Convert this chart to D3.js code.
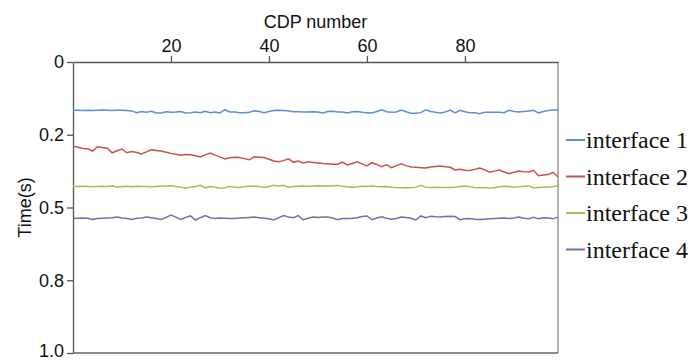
<!DOCTYPE html>
<html>
<head>
<meta charset="utf-8">
<script src="https://cdn.jsdelivr.net/npm/d3@7"></script>
<style>
  body { margin: 0; background: #fff; }
  svg { display: block; }
</style>
</head>
<body>
<div id="chart"></div>
<script>
// series names + colours
const seriesNames = ["interface 1", "interface 2", "interface 3", "interface 4"];
const seriesColors = ["#5b8ed4", "#cc4f4c", "#9bc25a", "#8465aa"];

// CDP numbers 0..99
const cdp = d3.range(0, 100);

// picked times (s)
const interface1 = [
  0.166,0.166,0.167,0.166,0.167,0.166,0.165,0.166,0.167,0.166,
  0.166,0.167,0.168,0.174,0.170,0.173,0.169,0.175,0.175,0.171,
  0.173,0.172,0.170,0.175,0.174,0.172,0.174,0.169,0.174,0.172,
  0.175,0.164,0.172,0.172,0.174,0.174,0.173,0.168,0.170,0.174,
  0.170,0.167,0.166,0.167,0.168,0.171,0.171,0.172,0.172,0.171,
  0.172,0.175,0.170,0.169,0.172,0.172,0.175,0.171,0.170,0.173,
  0.174,0.175,0.170,0.164,0.171,0.173,0.172,0.165,0.171,0.176,
  0.176,0.174,0.164,0.170,0.173,0.175,0.172,0.165,0.175,0.166,
  0.171,0.174,0.174,0.178,0.173,0.173,0.173,0.173,0.174,0.166,
  0.170,0.172,0.170,0.168,0.166,0.175,0.170,0.167,0.165,0.164
];
const interface2 = [
  0.289,0.293,0.297,0.298,0.306,0.291,0.294,0.296,0.312,0.305,
  0.299,0.312,0.308,0.311,0.316,0.309,0.302,0.304,0.306,0.310,
  0.314,0.317,0.320,0.318,0.319,0.322,0.326,0.319,0.313,0.320,
  0.326,0.333,0.329,0.327,0.328,0.332,0.336,0.326,0.327,0.328,
  0.334,0.340,0.343,0.339,0.333,0.344,0.340,0.347,0.343,0.345,
  0.347,0.349,0.350,0.351,0.351,0.344,0.354,0.349,0.343,0.350,
  0.357,0.346,0.352,0.360,0.353,0.363,0.356,0.350,0.356,0.361,
  0.362,0.363,0.364,0.361,0.359,0.357,0.360,0.362,0.371,0.369,
  0.372,0.373,0.369,0.364,0.370,0.379,0.375,0.371,0.378,0.384,
  0.379,0.375,0.377,0.378,0.372,0.391,0.388,0.387,0.379,0.395
];
const interface3 = [
  0.428,0.428,0.427,0.428,0.429,0.428,0.427,0.428,0.425,0.430,
  0.428,0.427,0.429,0.427,0.428,0.428,0.429,0.428,0.427,0.426,
  0.425,0.428,0.430,0.434,0.430,0.428,0.424,0.433,0.428,0.430,
  0.434,0.432,0.427,0.430,0.431,0.428,0.427,0.426,0.428,0.431,
  0.428,0.424,0.427,0.424,0.430,0.428,0.427,0.426,0.427,0.426,
  0.425,0.426,0.425,0.426,0.424,0.427,0.429,0.431,0.429,0.427,
  0.428,0.426,0.428,0.429,0.428,0.430,0.431,0.432,0.431,0.432,
  0.430,0.424,0.430,0.431,0.430,0.431,0.431,0.431,0.430,0.428,
  0.426,0.429,0.431,0.432,0.432,0.433,0.432,0.429,0.427,0.428,
  0.430,0.429,0.427,0.425,0.433,0.431,0.430,0.430,0.428,0.425
];
const interface4 = [
  0.538,0.537,0.536,0.537,0.541,0.538,0.537,0.536,0.535,0.533,
  0.536,0.538,0.541,0.537,0.536,0.533,0.535,0.538,0.541,0.534,
  0.526,0.533,0.541,0.534,0.529,0.543,0.535,0.528,0.535,0.538,
  0.536,0.537,0.538,0.538,0.536,0.535,0.534,0.533,0.535,0.537,
  0.539,0.543,0.535,0.528,0.533,0.535,0.528,0.542,0.537,0.533,
  0.534,0.533,0.533,0.536,0.542,0.538,0.538,0.537,0.535,0.531,
  0.529,0.542,0.536,0.532,0.537,0.540,0.538,0.533,0.534,0.537,
  0.543,0.529,0.535,0.530,0.532,0.533,0.531,0.530,0.531,0.542,
  0.539,0.538,0.540,0.541,0.540,0.539,0.538,0.537,0.536,0.538,
  0.536,0.533,0.537,0.539,0.534,0.539,0.535,0.536,0.539,0.533
];

const xTicks = [20, 40, 60, 80];
const yTicks = [0, 0.25, 0.5, 0.75, 1];
const yTickLabels = ["0", "0.2", "0.5", "0.8", "1.0"];

const width = 692, height = 361;
const margin = {top: 62, right: 134, bottom: 8, left: 73};
const plotW = width - margin.left - margin.right,
  plotH = height - margin.top - margin.bottom;

const svg = d3.select("#chart").append("svg")
  .attr("width", width)
  .attr("height", height);

const x = d3.scaleLinear().domain([0, 99]).range([0, plotW]);
const y = d3.scaleLinear().domain([0, 1]).range([0, plotH]);

const g = svg.append("g")
  .attr("transform", "translate(" + margin.left + "," + margin.top + ")");

// frame (right + bottom are lighter)
g.append("line").attr("x1", plotW).attr("x2", plotW).attr("y1", 0).attr("y2", plotH)
  .attr("stroke", "#8a8a8a").attr("stroke-width", 1.3);
g.append("line").attr("x1", 0).attr("x2", plotW).attr("y1", plotH).attr("y2", plotH)
  .attr("stroke", "#666").attr("stroke-width", 1.3);

// top axis
const xAxis = g.append("g")
  .call(d3.axisTop(x).tickValues(xTicks).tickSize(6).tickSizeOuter(0).tickPadding(4));
xAxis.selectAll("text").attr("font-family", "Liberation Sans, Arial, sans-serif")
  .attr("font-size", 18).attr("fill", "#111");

// left axis
const yAxis = g.append("g")
  .call(d3.axisLeft(y).tickValues(yTicks)
    .tickFormat(function(d, i) { return yTickLabels[i]; })
    .tickSize(6).tickSizeOuter(0).tickPadding(3));
yAxis.selectAll("text").attr("font-family", "Liberation Sans, Arial, sans-serif")
  .attr("font-size", 18).attr("fill", "#111");
// last label sits on the bottom edge, nudge it up a little
yAxis.selectAll(".tick").filter(function(d) { return d === 1; })
  .select("text").attr("dy", "0.2em");

svg.selectAll(".domain, .tick line").attr("stroke", "#555").attr("stroke-width", 1.3);

// axis titles
svg.append("text")
  .attr("x", margin.left + plotW / 2)
  .attr("y", 28)
  .attr("text-anchor", "middle")
  .attr("font-family", "Liberation Sans, Arial, sans-serif")
  .attr("font-size", 18)
  .attr("fill", "#111")
  .text("CDP number");

svg.append("text")
  .attr("transform", "translate(31," + (margin.top + plotH / 2) + ") rotate(-90)")
  .attr("text-anchor", "middle")
  .attr("font-family", "Liberation Sans, Arial, sans-serif")
  .attr("font-size", 18)
  .attr("fill", "#111")
  .text("Time(s)");

// lines
const allSeries = [interface1, interface2, interface3, interface4];
const line = d3.line()
  .x(function(d, i) { return x(cdp[i]); })
  .y(function(d) { return y(d); });

g.selectAll(".series")
  .data(allSeries)
  .enter().append("path")
  .attr("class", "series")
  .attr("fill", "none")
  .attr("stroke", function(d, i) { return seriesColors[i]; })
  .attr("stroke-width", 1.5)
  .attr("d", line);

// legend
const legend = svg.append("g").attr("transform", "translate(566,140)");
const item = legend.selectAll(".item")
  .data(seriesNames)
  .enter().append("g")
  .attr("class", "item")
  .attr("transform", function(d, i) { return "translate(0," + (i * 36.5) + ")"; });

item.append("line")
  .attr("x1", 0).attr("x2", 19)
  .attr("stroke", function(d, i) { return seriesColors[i]; })
  .attr("stroke-width", 2);

item.append("text")
  .attr("x", 20)
  .attr("y", 8)
  .attr("font-family", "Liberation Serif, Times New Roman, serif")
  .attr("font-size", 24)
  .attr("fill", "#111")
  .text(function(d) { return d; });
</script>
</body>
</html>
